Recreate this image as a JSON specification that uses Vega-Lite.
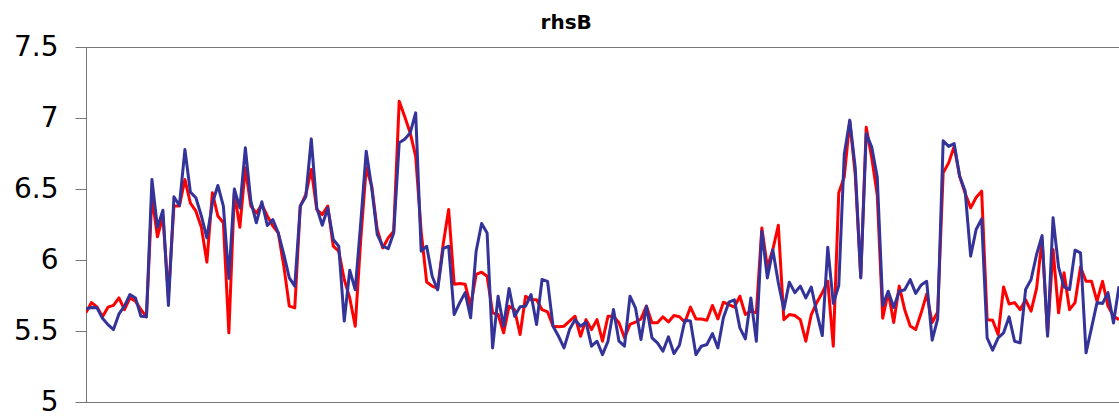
{
  "$schema": "https://vega.github.io/schema/vega-lite/v6.json",
  "width": 1033,
  "height": 355,
  "autosize": {"type": "none"},
  "padding": {"left": 86, "top": 47, "right": 0, "bottom": 18},
  "background": "white",
  "title": {"text": "rhsB", "font": "DejaVu Sans", "fontSize": 20, "fontWeight": "bold", "color": "black", "anchor": "middle", "frame": "bounds", "offset": 0},
  "config": {
    "view": {"stroke": "#777777", "strokeWidth": 1},
    "axisY": {"labelFont": "DejaVu Sans", "labelFontSize": 28, "labelColor": "black", "tickSize": 11, "tickColor": "#777777", "domainColor": "#777777", "labelPadding": 17, "grid": false, "title": null, "format": "~g"},
    "axisX": {"labels": false, "ticks": false, "grid": false, "title": null, "domainColor": "#777777"}
  },
  "data": {"values": [
    {"t":0,"r":5.63,"b":5.656},{"t":1,"r":5.70,"b":5.665},{"t":2,"r":5.67,"b":5.663},{"t":3,"r":5.60,"b":5.59},{"t":4,"r":5.668,"b":5.545},
    {"t":5,"r":5.68,"b":5.51},{"t":6,"r":5.733,"b":5.62},{"t":7,"r":5.65,"b":5.675},{"t":8,"r":5.733,"b":5.757},{"t":9,"r":5.71,"b":5.733},
    {"t":10,"r":5.65,"b":5.604},{"t":11,"r":5.60,"b":5.60},{"t":12,"r":6.45,"b":6.567},{"t":13,"r":6.163,"b":6.23},{"t":14,"r":6.31,"b":6.35},
    {"t":15,"r":5.745,"b":5.68},{"t":16,"r":6.38,"b":6.445},{"t":17,"r":6.38,"b":6.384},{"t":18,"r":6.567,"b":6.778},{"t":19,"r":6.40,"b":6.478},
    {"t":20,"r":6.344,"b":6.438},{"t":21,"r":6.23,"b":6.31},{"t":22,"r":5.985,"b":6.156},{"t":23,"r":6.473,"b":6.40},{"t":24,"r":6.31,"b":6.525},
    {"t":25,"r":6.262,"b":6.38},{"t":26,"r":5.487,"b":5.87},{"t":27,"r":6.473,"b":6.50},{"t":28,"r":6.23,"b":6.367},{"t":29,"r":6.65,"b":6.79},
    {"t":30,"r":6.38,"b":6.414},{"t":31,"r":6.33,"b":6.262},{"t":32,"r":6.39,"b":6.41},{"t":33,"r":6.31,"b":6.243},{"t":34,"r":6.24,"b":6.285},
    {"t":35,"r":6.19,"b":6.19},{"t":36,"r":5.957,"b":6.04},{"t":37,"r":5.675,"b":5.874},{"t":38,"r":5.663,"b":5.816},{"t":39,"r":6.38,"b":6.38},
    {"t":40,"r":6.46,"b":6.445},{"t":41,"r":6.637,"b":6.853},{"t":42,"r":6.355,"b":6.367},{"t":43,"r":6.32,"b":6.245},{"t":44,"r":6.38,"b":6.367},
    {"t":45,"r":6.097,"b":6.144},{"t":46,"r":6.062,"b":6.097},{"t":47,"r":5.863,"b":5.57},{"t":48,"r":5.733,"b":5.928},{"t":49,"r":5.534,"b":5.79},
    {"t":50,"r":6.144,"b":6.262},{"t":51,"r":6.65,"b":6.766},{"t":52,"r":6.52,"b":6.508},{"t":53,"r":6.215,"b":6.18},{"t":54,"r":6.085,"b":6.097},
    {"t":55,"r":6.156,"b":6.08},{"t":56,"r":6.203,"b":6.19},{"t":57,"r":7.118,"b":6.825},{"t":58,"r":7.01,"b":6.85},{"t":59,"r":6.895,"b":6.895},
    {"t":60,"r":6.73,"b":7.036},{"t":61,"r":6.2,"b":6.062},{"t":62,"r":5.845,"b":6.097},{"t":63,"r":5.816,"b":5.886},{"t":64,"r":5.80,"b":5.79},
    {"t":65,"r":6.11,"b":6.08},{"t":66,"r":6.356,"b":6.097},{"t":67,"r":5.83,"b":5.616},{"t":68,"r":5.834,"b":5.698},{"t":69,"r":5.83,"b":5.77},
    {"t":70,"r":5.675,"b":5.593},{"t":71,"r":5.898,"b":6.062},{"t":72,"r":5.914,"b":6.257},{"t":73,"r":5.886,"b":6.19},{"t":74,"r":5.628,"b":5.381},
    {"t":75,"r":5.616,"b":5.745},{"t":76,"r":5.487,"b":5.534},{"t":77,"r":5.675,"b":5.80},{"t":78,"r":5.65,"b":5.604},{"t":79,"r":5.475,"b":5.67},
    {"t":80,"r":5.745,"b":5.675},{"t":81,"r":5.72,"b":5.757},{"t":82,"r":5.72,"b":5.546},{"t":83,"r":5.65,"b":5.863},{"t":84,"r":5.635,"b":5.85},
    {"t":85,"r":5.534,"b":5.534},{"t":86,"r":5.53,"b":5.463},{"t":87,"r":5.534,"b":5.381},{"t":88,"r":5.57,"b":5.51},{"t":89,"r":5.604,"b":5.58},
    {"t":90,"r":5.463,"b":5.534},{"t":91,"r":5.58,"b":5.562},{"t":92,"r":5.51,"b":5.393},{"t":93,"r":5.58,"b":5.428},{"t":94,"r":5.428,"b":5.334},
    {"t":95,"r":5.604,"b":5.428},{"t":96,"r":5.604,"b":5.651},{"t":97,"r":5.558,"b":5.428},{"t":98,"r":5.452,"b":5.393},{"t":99,"r":5.546,"b":5.745},
    {"t":100,"r":5.562,"b":5.663},{"t":101,"r":5.585,"b":5.44},{"t":102,"r":5.675,"b":5.675},{"t":103,"r":5.558,"b":5.452},{"t":104,"r":5.558,"b":5.416},
    {"t":105,"r":5.60,"b":5.358},{"t":106,"r":5.564,"b":5.459},{"t":107,"r":5.609,"b":5.341},{"t":108,"r":5.60,"b":5.40},{"t":109,"r":5.562,"b":5.576},
    {"t":110,"r":5.668,"b":5.57},{"t":111,"r":5.585,"b":5.334},{"t":112,"r":5.585,"b":5.393},{"t":113,"r":5.576,"b":5.405},{"t":114,"r":5.68,"b":5.482},
    {"t":115,"r":5.585,"b":5.381},{"t":116,"r":5.703,"b":5.593},{"t":117,"r":5.686,"b":5.703},{"t":118,"r":5.668,"b":5.72},{"t":119,"r":5.745,"b":5.522},
    {"t":120,"r":5.616,"b":5.445},{"t":121,"r":5.64,"b":5.733},{"t":122,"r":5.628,"b":5.428},{"t":123,"r":6.226,"b":6.203},{"t":124,"r":5.95,"b":5.874},
    {"t":125,"r":6.074,"b":6.07},{"t":126,"r":6.245,"b":5.84},{"t":127,"r":5.58,"b":5.651},{"t":128,"r":5.616,"b":5.844},{"t":129,"r":5.609,"b":5.77},
    {"t":130,"r":5.58,"b":5.816},{"t":131,"r":5.428,"b":5.733},{"t":132,"r":5.616,"b":5.81},{"t":133,"r":5.70,"b":5.628},{"t":134,"r":5.77,"b":5.468},
    {"t":135,"r":5.85,"b":6.09},{"t":136,"r":5.393,"b":5.694},{"t":137,"r":6.473,"b":5.82},{"t":138,"r":6.585,"b":6.745},{"t":139,"r":6.978,"b":6.985},
    {"t":140,"r":6.60,"b":6.65},{"t":141,"r":5.88,"b":5.874},{"t":142,"r":6.935,"b":6.89},{"t":143,"r":6.72,"b":6.795},{"t":144,"r":6.46,"b":6.585},
    {"t":145,"r":5.59,"b":5.68},{"t":146,"r":5.775,"b":5.78},{"t":147,"r":5.56,"b":5.665},{"t":148,"r":5.816,"b":5.78},{"t":149,"r":5.65,"b":5.79},
    {"t":150,"r":5.535,"b":5.862},{"t":151,"r":5.51,"b":5.765},{"t":152,"r":5.628,"b":5.824},{"t":153,"r":5.76,"b":5.85},{"t":154,"r":5.56,"b":5.435},
    {"t":155,"r":5.635,"b":5.585},{"t":156,"r":6.614,"b":6.84},{"t":157,"r":6.684,"b":6.80},{"t":158,"r":6.80,"b":6.82},{"t":159,"r":6.59,"b":6.59},
    {"t":160,"r":6.47,"b":6.485},{"t":161,"r":6.367,"b":6.027},{"t":162,"r":6.44,"b":6.215},{"t":163,"r":6.485,"b":6.29},{"t":164,"r":5.58,"b":5.452},
    {"t":165,"r":5.576,"b":5.365},{"t":166,"r":5.475,"b":5.452},{"t":167,"r":5.81,"b":5.487},{"t":168,"r":5.69,"b":5.60},{"t":169,"r":5.70,"b":5.428},
    {"t":170,"r":5.65,"b":5.416},{"t":171,"r":5.72,"b":5.792},{"t":172,"r":5.64,"b":5.863},{"t":173,"r":5.80,"b":6.039},{"t":174,"r":6.144,"b":6.172},
    {"t":175,"r":5.48,"b":5.463},{"t":176,"r":6.074,"b":6.297},{"t":177,"r":5.628,"b":5.95},{"t":178,"r":5.91,"b":5.81},{"t":179,"r":5.65,"b":5.792},
    {"t":180,"r":5.70,"b":6.069},{"t":181,"r":5.95,"b":6.05},{"t":182,"r":5.85,"b":5.346},{"t":183,"r":5.85,"b":5.522},{"t":184,"r":5.71,"b":5.70},
    {"t":185,"r":5.85,"b":5.694},{"t":186,"r":5.675,"b":5.77},{"t":187,"r":5.604,"b":5.557},{"t":188,"r":5.58,"b":5.816}
  ]},
  "encoding": {
    "x": {"field": "t", "type": "quantitative", "scale": {"domain": [0, 188], "nice": false, "zero": false}}
  },
  "layer": [
    {
      "mark": {"type": "line", "color": "#FF0000", "strokeWidth": 3, "strokeJoin": "round", "clip": true},
      "encoding": {"y": {"field": "r", "type": "quantitative", "scale": {"domain": [5, 7.5], "nice": false, "zero": false}, "axis": {"values": [5, 5.5, 6, 6.5, 7, 7.5]}}}
    },
    {
      "mark": {"type": "line", "color": "#333399", "strokeWidth": 3, "strokeJoin": "round", "clip": true},
      "encoding": {"y": {"field": "b", "type": "quantitative", "scale": {"domain": [5, 7.5], "nice": false, "zero": false}, "axis": {"values": [5, 5.5, 6, 6.5, 7, 7.5]}}}
    }
  ]
}
